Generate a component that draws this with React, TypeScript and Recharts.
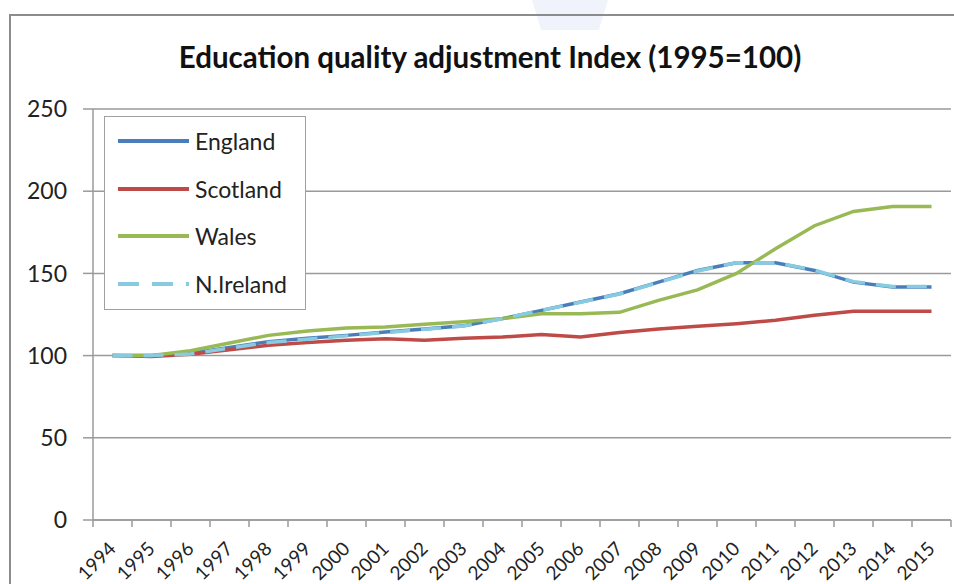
import React from "react";
import { LineChart, Line, XAxis, YAxis, CartesianGrid, Legend } from "recharts";

const years = [1994, 1995, 1996, 1997, 1998, 1999, 2000, 2001, 2002, 2003, 2004, 2005, 2006, 2007, 2008, 2009, 2010, 2011, 2012, 2013, 2014, 2015];
const england = [100, 100, 101.5, 105, 108.5, 110.5, 112.3, 114.4, 116.2, 118.2, 122.5, 127.5, 132.6, 137.6, 144.7, 151.8, 156.5, 156.5, 151.8, 144.7, 141.7, 141.7];
const scotland = [100, 99.5, 100.8, 103.6, 106.3, 108, 109.3, 110.3, 109.3, 110.5, 111.3, 112.8, 111.3, 114, 116.2, 117.8, 119.4, 121.5, 124.5, 127, 127, 127];
const wales = [100, 100, 103, 107.7, 112.3, 115, 116.8, 117.4, 119, 120.6, 122.5, 125.5, 125.5, 126.3, 133.6, 140, 150, 165, 179, 187.7, 190.7, 190.7];
const nireland = [100, 100, 101, 104.5, 108, 110, 112, 114, 116, 118, 122.5, 127.5, 132.5, 137.5, 144.5, 151.5, 156.5, 156.5, 152, 145, 142, 142];
const yTicks = [0, 50, 100, 150, 200, 250];
const title = "Education quality adjustment Index (1995=100)";

const series = [
  { key: "England", values: england, color: "#4a7ebb", dash: undefined as string | undefined },
  { key: "Scotland", values: scotland, color: "#be4b48", dash: undefined },
  { key: "Wales", values: wales, color: "#98b954", dash: undefined },
  { key: "N.Ireland", values: nireland, color: "#86cbe0", dash: "20 11" },
];

const data = years.map((y, i) => {
  const row: Record<string, number> = { year: y };
  series.forEach((s) => (row[s.key] = s.values[i]));
  return row;
});

const FONT = "Lato, 'Noto Sans', sans-serif";
const AXIS = "#9a9a9a";
const HALF_BAND = 19.5;

const XTick = (props: any) => {
  const { x, y, payload, index } = props;
  const ax = x + 4.5;
  const ay = y + 30;
  return (
    <g>
      <line x1={x - HALF_BAND} x2={x - HALF_BAND} y1={y} y2={y + 7} stroke={AXIS} strokeWidth={1.5} />
      {index === years.length - 1 && (
        <line x1={x + HALF_BAND} x2={x + HALF_BAND} y1={y} y2={y + 7} stroke={AXIS} strokeWidth={1.5} />
      )}
      <text
        x={ax}
        y={ay}
        textAnchor="end"
        transform={`rotate(-45 ${ax} ${ay})`}
        fontSize={19}
        fontFamily={FONT}
        fill="#222"
      >
        {payload.value}
      </text>
    </g>
  );
};

const LegendBox = () => {
  return (
    <div
      style={{
        width: 202,
        height: 194,
        border: "1.5px solid #a0a0a0",
        background: "#fff",
        boxSizing: "border-box",
        position: "relative",
      }}
    >
      {series.map((s, i) => (
        <div
          key={s.key}
          style={{ position: "absolute", left: 0, top: 10 + i * 47.7, height: 28, display: "flex", alignItems: "center" }}
        >
          <svg width={86} height={28} style={{ display: "block" }}>
            <line x1={13} x2={84} y1={14} y2={14} stroke={s.color} strokeWidth={4} strokeDasharray={s.dash ? "21 13" : undefined} />
          </svg>
          <span style={{ fontFamily: FONT, fontSize: 23, color: "#222", marginLeft: 4, lineHeight: "28px" }}>{s.key}</span>
        </div>
      ))}
    </div>
  );
};

export default function App() {
  return (
    <div style={{ position: "absolute", left: 0, top: 0, width: 954, height: 584, background: "#fff", overflow: "hidden" }}>
      <div
        style={{
          position: "absolute",
          left: 532,
          top: 0,
          width: 76,
          height: 30,
          background: "#f0f3fb",
          clipPath: "polygon(0 0, 100% 0, 88% 100%, 12% 100%)",
        }}
      />
      <div
        style={{
          position: "absolute",
          left: 9,
          top: 14,
          width: 980,
          height: 620,
          border: "2px solid #8c8c8c",
          boxSizing: "border-box",
        }}
      />
      <div
        style={{
          position: "absolute",
          left: 0,
          width: 980,
          top: 37,
          textAlign: "center",
          fontFamily: FONT,
          fontWeight: 700,
          fontSize: 29.5,
          color: "#111",
          lineHeight: "40px",
        }}
      >
        {title}
      </div>
      <div style={{ position: "absolute", left: 0, top: 0 }}>
        <LineChart width={954} height={584} data={data} margin={{ top: 109, right: 3, bottom: 0, left: 33 }}>
          <CartesianGrid vertical={false} stroke={AXIS} strokeWidth={1.5} />
          <XAxis
            dataKey="year"
            type="number"
            domain={[1993.5, 2015.5]}
            ticks={years}
            interval={0}
            height={64}
            tickLine={false}
            tickSize={0}
            tickMargin={0}
            tick={<XTick />}
            axisLine={{ stroke: AXIS, strokeWidth: 1.5 }}
          />
          <YAxis
            domain={[0, 250]}
            ticks={yTicks}
            width={60}
            tickSize={10}
            tickMargin={16}
            tickLine={{ stroke: AXIS, strokeWidth: 1.5 }}
            axisLine={{ stroke: AXIS, strokeWidth: 1.5 }}
            tick={{ fontSize: 23, fontFamily: FONT, fill: "#222" }}
          />
          <Legend
            layout="vertical"
            align="center"
            verticalAlign="middle"
            wrapperStyle={{ left: 104, top: 116, width: 202, height: 194 }}
            content={<LegendBox />}
          />
          {series.map((s) => (
            <Line
              key={s.key}
              dataKey={s.key}
              name={s.key}
              stroke={s.color}
              strokeWidth={3.5}
              strokeDasharray={s.dash}
              dot={false}
              activeDot={false}
              type="linear"
              isAnimationActive={false}
            />
          ))}
        </LineChart>
      </div>
    </div>
  );
}
